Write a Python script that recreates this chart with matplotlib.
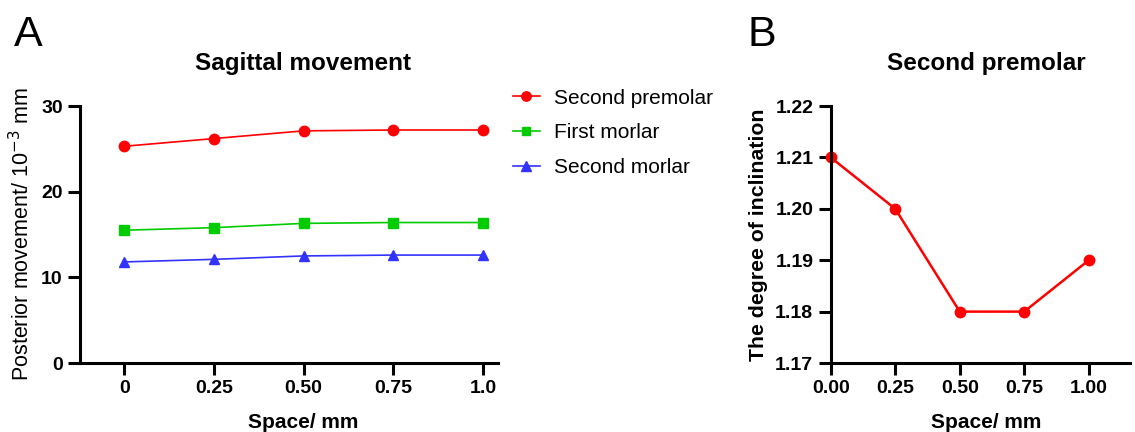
import matplotlib.pyplot as plt
import numpy as np

plt.rcParams['font.family'] = ['Liberation Sans', 'DejaVu Sans']

# data
space = [0, 0.25, 0.50, 0.75, 1.0]
second_premolar = [25.3, 26.2, 27.1, 27.2, 27.2]
first_morlar = [15.5, 15.8, 16.3, 16.4, 16.4]
second_morlar = [11.8, 12.1, 12.5, 12.6, 12.6]

incl_space = [0, 0.25, 0.50, 0.75, 1.00]
inclination = [1.21, 1.20, 1.18, 1.18, 1.19]

fig = plt.figure(figsize=(11.35, 4.32), dpi=100)

ax1 = fig.add_axes([0.0705, 0.1597, 0.3683, 0.5949])
ax2 = fig.add_axes([0.7319, 0.1597, 0.2637, 0.5949])


def style(ax):
    for s in ['top', 'right']:
        ax.spines[s].set_visible(False)
    for s in ['left', 'bottom']:
        ax.spines[s].set_linewidth(2.2)
    ax.tick_params(width=2.2, length=8.5, labelsize=14, pad=4)
    for lab in ax.get_xticklabels() + ax.get_yticklabels():
        lab.set_fontweight('bold')


ax1.plot(space, second_premolar, '-o', color='#ff0000', lw=1.2, ms=7.5, label='Second premolar')
ax1.plot(space, first_morlar, '-s', color='#00cc00', lw=1.2, ms=7, label='First morlar')
ax1.plot(space, second_morlar, '-^', color='#3333ff', lw=1.2, ms=7.5, label='Second morlar')
ax1.set_xlim(-0.123, 1.042)
ax1.set_ylim(0, 30)
ax1.set_yticks([0, 10, 20, 30])
ax1.set_xticks(space)
ax1.set_xticklabels(['0', '0.25', '0.50', '0.75', '1.0'])
style(ax1)
ax1.set_ylabel('Posterior movement/ 10$^{-3}$ mm', fontsize=15.5, labelpad=5)
ax1.set_xlabel('Space/ mm', fontsize=15, fontweight='bold', labelpad=11, x=0.533)
ax1.text(0.533, 1.165, 'Sagittal movement', transform=ax1.transAxes, ha='center',
         va='center', fontsize=17.5, fontweight='bold')
ax1.legend(loc='upper left', bbox_to_anchor=(0.99, 1.14), frameon=False, fontsize=15,
           handlelength=1.3, handletextpad=0.7, labelspacing=0.75, markerscale=0.9)

ax2.plot(incl_space, inclination, '-', color='#ff0000', lw=1.8)
ax2.plot(incl_space, inclination, 'o', color='#ff0000', ms=7.5, clip_on=False)
ax2.set_xlim(0, 1.16)
ax2.set_ylim(1.17, 1.22)
ax2.set_yticks([1.17, 1.18, 1.19, 1.20, 1.21, 1.22])
ax2.set_xticks(incl_space)
ax2.set_xticklabels(['0.00', '0.25', '0.50', '0.75', '1.00'])
style(ax2)
ax2.set_ylabel('The degree of inclination', fontsize=15.3, fontweight='bold', labelpad=5)
ax2.set_xlabel('Space/ mm', fontsize=15, fontweight='bold', labelpad=11, x=0.52)
ax2.text(0.52, 1.165, 'Second premolar', transform=ax2.transAxes, ha='center',
         va='center', fontsize=17.5, fontweight='bold')

fig.text(0.012, 0.92, 'A', fontsize=31, va='center')
fig.text(0.659, 0.92, 'B', fontsize=31, va='center')

fig.savefig('out.png', dpi=100)
